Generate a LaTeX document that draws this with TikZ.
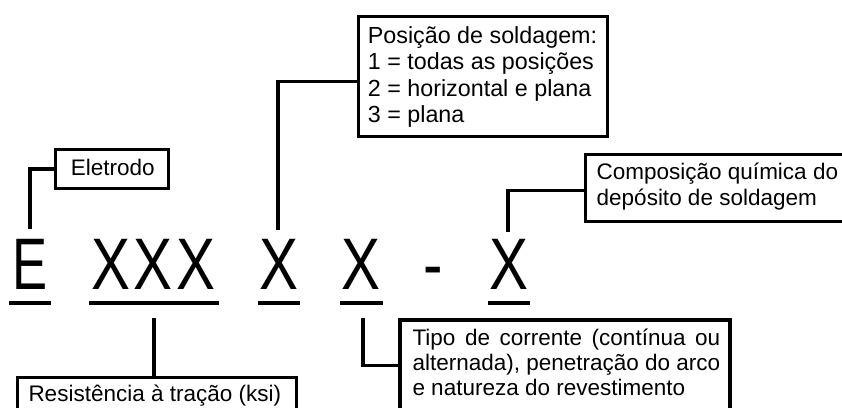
\documentclass[tikz,border=0pt]{standalone}
\usepackage{fontspec}
\usepackage{graphicx}
\setmainfont{Liberation Sans}
\usetikzlibrary{calc}
\begin{document}
\begin{tikzpicture}[x=1pt,y=-1pt,
  frame/.style={draw=black, line width=3.3pt, fill=white, inner sep=0pt, anchor=north west},
  lbl/.style={font=\fontsize{22.5}{27}\selectfont, inner sep=0pt, anchor=base west},
  lblb/.style={font=\fontsize{23.3}{27}\selectfont, inner sep=0pt, anchor=base west},
  big/.style={font=\fontsize{73}{80}\selectfont, inner sep=0pt, anchor=base},
  wire/.style={line width=3.5pt},
  uline/.style={line width=4pt}]
\useasboundingbox (0,0) rectangle (842,407);
\clip (0,0) rectangle (842,407);

% big code letters
\node[big] (L1) at (30,289) {\scalebox{0.72}[1]{E}};
\node[big] (L2) at (153.5,289) {\scalebox{0.8}[1]{X\hspace{4.5pt}X\hspace{4.5pt}X}};
\node[big] (L3) at (279,289) {\scalebox{0.8}[1]{X}};
\node[big] (L4) at (361,289) {\scalebox{0.8}[1]{X}};
\node[big] (L5) at (433,289) {\scalebox{0.8}[1]{-}};
\node[big] (L6) at (509,289) {\scalebox{0.8}[1]{X}};

% underlines
\draw[uline] (9,303) -- (51,303);
\draw[uline] (89,303) -- (219,303);
\draw[uline] (258,303) -- (300,303);
\draw[uline] (340,303) -- (383,303);
\draw[uline] (488,303) -- (530,303);

% connector free ends
\coordinate (cE) at (30,229);
\coordinate (c2) at (154,318);
\coordinate (c4) at (278,230);
\coordinate (c5) at (363,318);
\coordinate (c6) at (508,232);

% boxes
\node[frame, minimum width=112.7pt, minimum height=39pt] (elet) at (54,147.7) {};
\node[frame, minimum width=249.5pt, minimum height=120pt] (pos) at (356.5,15) {};
\node[frame, minimum width=280pt, minimum height=67.3pt] (comp) at (583.5,152.7) {};
\node[frame, minimum width=279pt, minimum height=50pt] (res) at (16,376) {};
\node[frame, minimum width=330pt, minimum height=100pt] (tipo) at (398.3,318.3) {};

% connectors
\draw[wire] (cE) |- (elet.west);
\draw[wire] (c4) |- ([yshift=-5pt]pos.west);
\draw[wire] (c6) |- ([yshift=-2.5pt]comp.west);
\draw[wire] (c2) -- (c2 |- res.north);
\draw[wire] (c5) |- ($(tipo.north west)+(0,47)$);

% texts
\node[lbl] (tE) at (70.7,175.7) {Eletrodo};
\node[lblb] (tP1) at (367.7,43.3) {Posição de soldagem:};
\node[lblb] (tP2) at (367.7,69.8) {1 = todas as posições};
\node[lblb] (tP3) at (367.7,96.2) {2 = horizontal e plana};
\node[lblb] (tP4) at (367.7,122.7) {3 = plana};
\node[lbl] (tC1) at (596.5,179.3) {Composição química do};
\node[lbl] (tC2) at (596.5,205) {depósito de soldagem};
\node[lbl] (tR) at (28.3,401.7) {Resistência à tração (ksi)};
\node[lbl] (tT1) at (412.3,345) {\makebox[307.7pt][s]{Tipo de corrente (contínua ou}};
\node[lbl] (tT2) at (412.3,370) {alternada), penetração do arco};
\node[lbl] (tT3) at (412.3,395) {e natureza do revestimento};
\end{tikzpicture}
\end{document}
